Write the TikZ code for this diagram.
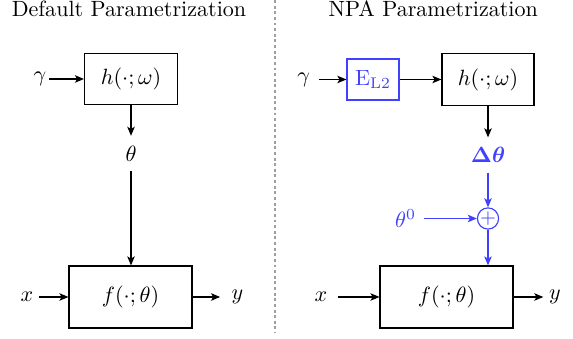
\documentclass[tikz,border=0pt]{standalone}
\usepackage{amsmath}
\usetikzlibrary{positioning,arrows.meta}
\definecolor{npablue}{RGB}{64,64,255}

\begin{document}
\begin{tikzpicture}[x=0.453pt,y=-0.453pt,line width=0.52pt,%
		   >={Stealth[length=4.1pt,width=3.4pt,inset=1pt]},
		   block/.style={draw,rectangle,inner sep=0pt},
		   sig/.style={inner sep=2.4pt},
		   param/.style={inner xsep=2pt,inner ysep=4.25pt},
		   title/.style={anchor=base},
		   npa/.style={draw=npablue,text=npablue},
		   sumnode/.style={npa,circle,inner sep=0pt,minimum size=9.6pt},
		   flow/.style={->}]

	\useasboundingbox (0,0) rectangle (573,339);

	% separator between both set-ups
	\draw[gray!75,line width=0.47pt,dash pattern=on 1.32pt off 1.23pt] (275,0) -- (275,333);

	% left: default parametrization
	\node[title] (tL) at (129,16.7) {Default Parametrization};
	\node[block,minimum width=42.1pt,minimum height=23.2pt] (hL) at (131,79) {$h(\cdot;\omega)$};
	\node[sig,inner xsep=1.1pt] (gL) at (40,79) {$\gamma$};
	\node[param] (thL) at (131,153.4) {$\theta$};
	\node[block,minimum width=55.7pt,minimum height=28.1pt] (fL) at (130.5,297) {$f(\cdot;\theta)$};
	\node[sig] (xL) at (27,297) {$x$};
	\node[sig,inner xsep=5pt] (yL) at (237.5,297) {$y$};

	\draw[flow] (gL) -- (hL);
	\draw[flow] (hL) -- (thL);
	\draw[flow] (thL) -- (thL |- fL.north);
	\draw[flow] (xL) -- (fL);
	\draw[flow] (fL) -- (yL);

	% right: NPA parametrization
	\node[title] (tR) at (433.3,16.7) {NPA Parametrization};
	\node[sig,inner xsep=3.8pt] (gR) at (303.7,79.5) {$\gamma$};
	\node[block,npa,minimum width=23.6pt,minimum height=18.6pt] (eR) at (373,79.5) {$\mathrm{E}_{\mathrm{L2}}$};
	\node[block,minimum width=41.7pt,minimum height=23.6pt] (hR) at (488,79.5) {$h(\cdot;\omega)$};
	\node[param,text=npablue] (dth) at (488,155) {$\boldsymbol{\Delta\theta}$};
	\node[sumnode] (sum) at (488,218.5) {\small$+$};
	\node[sig,inner xsep=3.4pt,text=npablue] (th0) at (405.5,218.5) {$\theta^0$};
	\node[block,minimum width=60.2pt,minimum height=28.1pt] (fR) at (446.5,297) {$f(\cdot;\theta)$};
	\node[sig,inner xsep=4.5pt] (xR) at (321,297) {$x$};
	\node[sig] (yR) at (555,297) {$y$};

	\draw[flow] (gR) -- (eR);
	\draw[flow] (eR) -- (hR);
	\draw[flow] (hR) -- (dth);
	\draw[flow,npablue] (dth) -- (sum);
	\draw[flow,npablue] (th0.east) -- (sum);
	\draw[flow,npablue] (sum) -- (sum |- fR.north);
	\draw[flow] (xR) -- (fR);
	\draw[flow] (fR) -- (yR);
\end{tikzpicture}
\end{document}
